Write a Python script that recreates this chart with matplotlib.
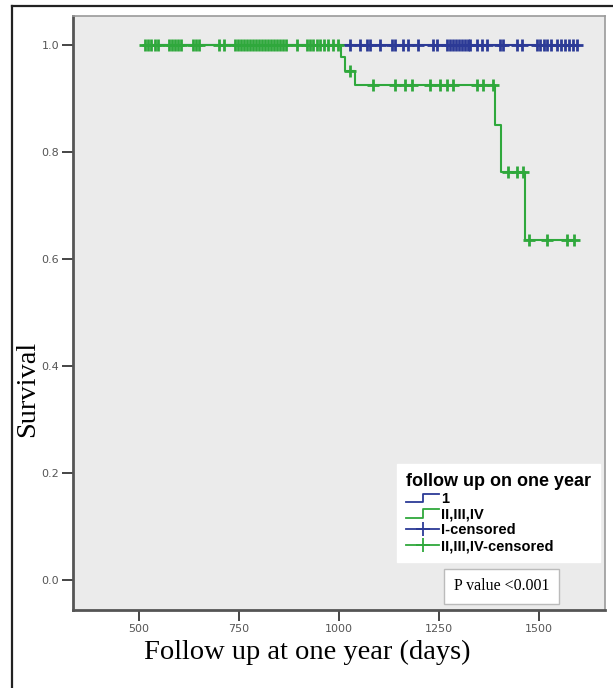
import numpy as np
import matplotlib.pyplot as plt
from matplotlib.lines import Line2D
from matplotlib.legend_handler import HandlerBase

# Kaplan-Meier data
blue_start = 515
blue_end = 1598
blue_censor_days = [1028, 1053, 1070, 1078, 1103, 1133, 1140, 1160, 1173, 1198,
                    1235, 1245, 1270, 1278, 1285, 1293, 1300, 1308, 1315, 1322,
                    1328, 1345, 1358, 1370, 1403, 1410, 1445, 1458, 1495, 1503,
                    1512, 1520, 1530, 1545, 1555, 1565, 1575, 1585, 1595]

green_start = 515
green_end = 1588
green_event_days = [1005, 1015, 1040, 1390, 1405, 1465]
green_surv = [0.977, 0.952, 0.925, 0.85, 0.763, 0.636]
green_censor_days = [515, 522, 530, 540, 548, 575, 582, 590, 598, 605, 635, 642,
                     650, 700, 712, 740, 748, 755, 762, 770, 778, 785, 792, 800,
                     808, 815, 822, 830, 838, 845, 852, 860, 868, 895, 920, 928,
                     936, 945, 952, 962, 972, 985, 997, 1028, 1085, 1140, 1165,
                     1183, 1228, 1253, 1270, 1285, 1345, 1360, 1385, 1422, 1445,
                     1460, 1475, 1520, 1570, 1588]

legend_labels = ["1", "II,III,IV", "I-censored", "II,III,IV-censored"]
xticks = [500, 750, 1000, 1250, 1500]
yticks = [0.0, 0.2, 0.4, 0.6, 0.8, 1.0]

BLUE = "#2c3a96"
GREEN = "#2fa83c"

# step curves
g_x = [green_start] + green_event_days + [green_end]
g_y = [1.0] + green_surv + [green_surv[-1]]


def surv_at(t):
    s = 1.0
    for d, v in zip(green_event_days, green_surv):
        if t >= d:
            s = v
    return s


green_censor_y = [surv_at(t) for t in green_censor_days]


class StepHandler(HandlerBase):
    def __init__(self, color):
        super().__init__()
        self.color = color

    def create_artists(self, legend, orig_handle, xdescent, ydescent, width,
                       height, fontsize, trans):
        x0, x1 = -xdescent, -xdescent + width
        xm = x0 + width * 0.5
        yl, yh = -ydescent + height * 0.1, -ydescent + height * 0.9
        ln = Line2D([x0, xm, xm, x1], [yl, yl, yh, yh], color=self.color, lw=1.3)
        ln.set_transform(trans)
        return [ln]


fig = plt.figure(figsize=(6.13, 6.88), dpi=100)
ax = fig.add_axes([73 / 613, 1 - 610 / 688, 532 / 613, 594 / 688])
ax.set_facecolor("#ebebeb")

ax.step([blue_start, blue_end], [1.0, 1.0], where="post", color=BLUE, lw=1.5)
ax.plot(blue_censor_days, [1.0] * len(blue_censor_days), ls="none", marker="+",
        ms=8, mew=2, color=BLUE)
ax.step(g_x, g_y, where="post", color=GREEN, lw=1.5)
ax.plot(green_censor_days, green_censor_y, ls="none", marker="+", ms=8, mew=2,
        color=GREEN)

ax.set_xlim(335, 1665)
ax.set_ylim(-0.056, 1.054)
ax.set_xticks(xticks)
ax.set_yticks(yticks)
ax.set_xticklabels([str(v) for v in xticks])
ax.set_yticklabels(["%.1f" % v for v in yticks])
ax.tick_params(axis="both", labelsize=8, colors="#444444", length=8, width=1.4,
               labelcolor="#555555", pad=2)
for s in ["left", "bottom"]:
    ax.spines[s].set_color("#555555")
    ax.spines[s].set_linewidth(2)
for s in ["top", "right"]:
    ax.spines[s].set_color("#9a9a9a")
    ax.spines[s].set_linewidth(1.2)

# legend
h_blue = Line2D([], [], color=BLUE)
h_green = Line2D([], [], color=GREEN)
h_bc = Line2D([], [], color=BLUE, marker="+", ms=10, mew=1.3, lw=1.3)
h_gc = Line2D([], [], color=GREEN, marker="+", ms=10, mew=1.3, lw=1.3)
leg = ax.legend([h_blue, h_green, h_bc, h_gc], legend_labels,
                handler_map={h_blue: StepHandler(BLUE), h_green: StepHandler(GREEN)},
                title="follow up on one year", loc="lower right",
                bbox_to_anchor=(0.99, 0.081), frameon=True, fancybox=False,
                edgecolor="white", facecolor="white", framealpha=1,
                prop={"family": "Liberation Sans", "size": 10.5, "weight": "bold"},
                title_fontproperties={"family": "Liberation Sans", "size": 13,
                                      "weight": "bold"},
                handlelength=2.3, handletextpad=0.1, labelspacing=0.12,
                borderpad=0.6, borderaxespad=0)
leg._legend_box.align = "left"

ax.text(0.806, 0.040, "P value <0.001", transform=ax.transAxes, ha="center",
        va="center", fontsize=11.5, family="Liberation Serif",
        bbox=dict(boxstyle="square,pad=0.6", fc="white", ec="#bbbbbb", lw=1))

fig.text(307 / 613, 1 - 652 / 688, "Follow up at one year (days)", ha="center",
         va="center", fontsize=20.5, family="Liberation Serif")
fig.text(28 / 613, 1 - 389 / 688, "Survival", rotation=90, ha="center",
         va="center", fontsize=20.5, family="Liberation Serif")

# outer frame (left and top edges)
fig.add_artist(Line2D([12 / 613, 12 / 613], [0, 1 - 6 / 688], color="#222222",
                      lw=1.6, transform=fig.transFigure))
fig.add_artist(Line2D([12 / 613, 1], [1 - 6 / 688, 1 - 6 / 688], color="#222222",
                      lw=1.6, transform=fig.transFigure))

fig.savefig("out.png", dpi=100)
